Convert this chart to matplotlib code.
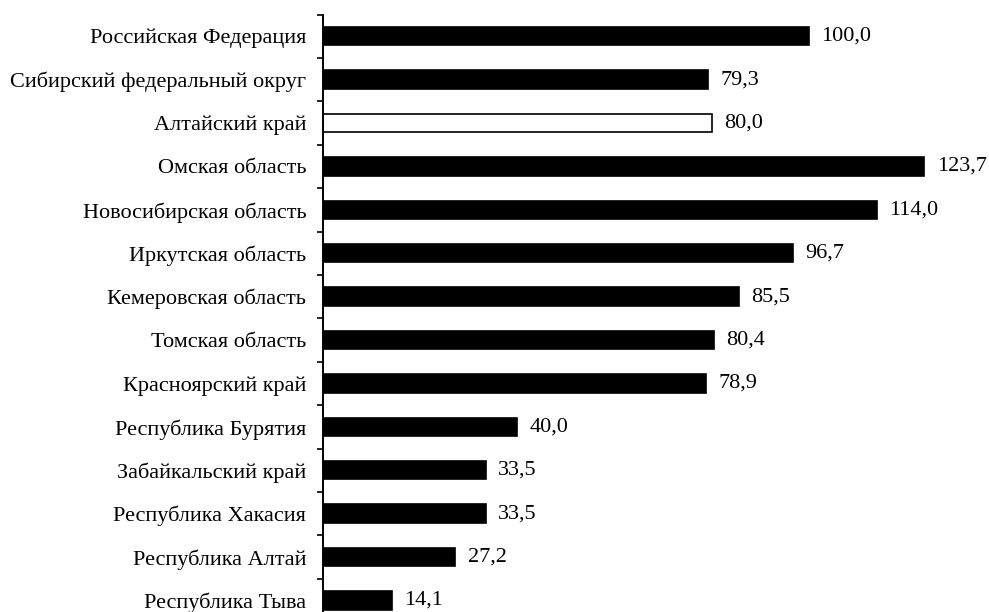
import matplotlib
matplotlib.use("Agg")
import matplotlib.pyplot as plt
import numpy as np

categories = [
    "Российская Федерация",
    "Сибирский федеральный округ",
    "Алтайский край",
    "Омская область",
    "Новосибирская область",
    "Иркутская область",
    "Кемеровская область",
    "Томская область",
    "Красноярский край",
    "Республика Бурятия",
    "Забайкальский край",
    "Республика Хакасия",
    "Республика Алтай",
    "Республика Тыва",
]
values = [100.0, 79.3, 80.0, 123.7, 114.0, 96.7, 85.5, 80.4, 78.9, 40.0, 33.5, 33.5, 27.2, 14.1]
highlight = "Алтайский край"

plt.rcParams['font.family'] = ['Liberation Serif', 'DejaVu Serif']

fig = plt.figure(figsize=(9.89, 6.12), dpi=100)
W, H = 989, 612
ax_left = 323
px_per_unit = 4.86
row_px = 43.4
top_px = 14.5
n = len(categories)
ax_h = n * row_px
ax_bottom_px = H - top_px - ax_h
ax = fig.add_axes([ax_left / W, ax_bottom_px / H, (W - ax_left) / W, ax_h / H])

y = np.arange(n)
faces = ['white' if c == highlight else 'black' for c in categories]
ax.barh(y, values, height=0.42, color=faces, edgecolor='black', linewidth=1.2)

for yi, v in zip(y, values):
    ax.annotate(f"{v:.1f}".replace('.', ','), xy=(v, yi), xytext=(9, 0),
                textcoords='offset points', va='center', ha='left', fontsize=16)

ax.set_xlim(0, (W - ax_left) / px_per_unit)
ax.set_ylim(n - 0.5, -0.5)
ax.set_yticks(y)
ax.set_yticklabels(categories, fontsize=16)
ax.tick_params(axis='y', which='major', length=0, pad=12)
ax.set_yticks(np.arange(-0.5, n, 1.0), minor=True)
ax.tick_params(axis='y', which='minor', length=4, width=1.2, direction='out')
ax.set_xticks([])
for s in ['top', 'right', 'bottom']:
    ax.spines[s].set_visible(False)
ax.spines['left'].set_linewidth(1.4)

fig.savefig("out.png", dpi=100)
